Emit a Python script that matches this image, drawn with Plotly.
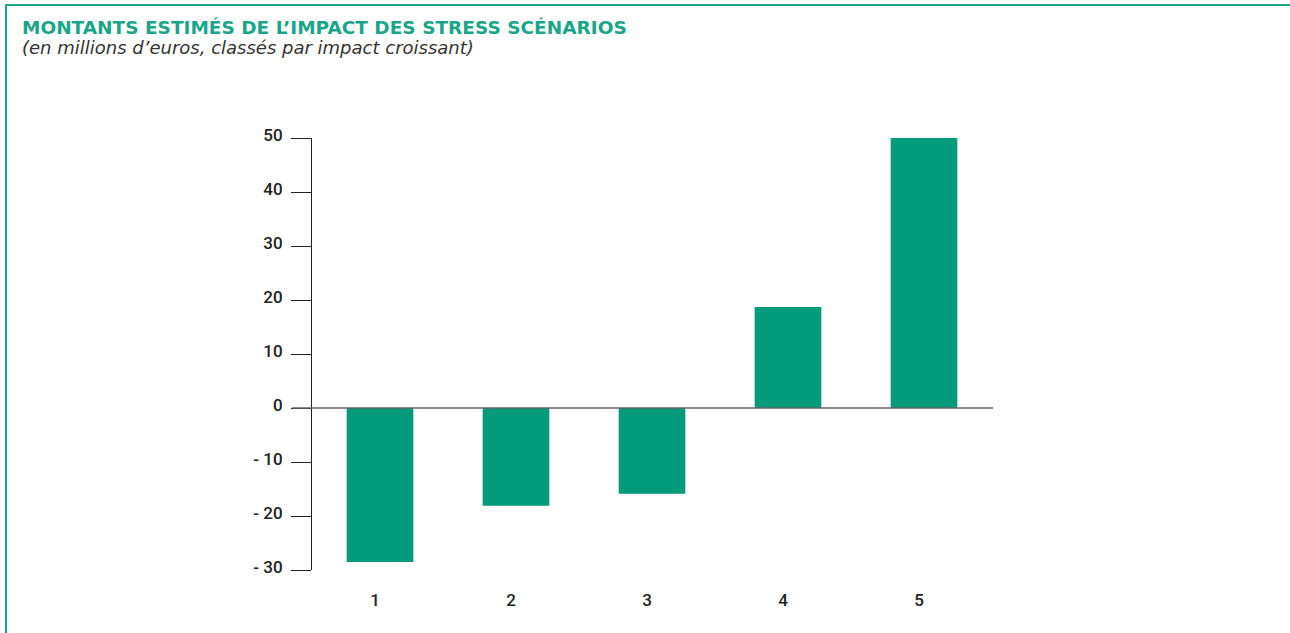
import plotly.graph_objects as go

categories = ["1", "2", "3", "4", "5"]
values = [-28.5, -18.1, -15.9, 18.7, 50.2]
tick_vals = [-30, -20, -10, 0, 10, 20, 30, 40, 50]
tick_text = ["- 30", "- 20", "- 10", "0", "10", "20", "30", "40", "50"]

bar_color = "#009B7A"
teal = "#1AA588"
tick_font = dict(family="Roboto, Liberation Sans, Arial, sans-serif", size=17, color="#222222", weight=500)

W, H = 1290, 633
L, R, T, B = 312, 298, 138, 63
PW, PH = W - L - R, H - T - B


def px(x):
    return (x - L) / PW


def py(y):
    return (H - B - y) / PH


fig = go.Figure()
fig.add_trace(go.Bar(
    x=categories, y=values, width=0.49,
    marker=dict(color=bar_color, line=dict(width=0)),
    showlegend=False, hoverinfo="skip",
))

fig.update_layout(
    width=W, height=H,
    margin=dict(l=L, r=R, t=T, b=B),
    paper_bgcolor="white", plot_bgcolor="white",
    xaxis=dict(
        range=[-0.5, 4.5], showgrid=False, zeroline=False, showline=False,
        ticks="", tickfont=tick_font, ticklabelstandoff=18, ticklabelshift=-5,
    ),
    yaxis=dict(
        range=[-30, 50], tickvals=tick_vals, ticktext=tick_text,
        showgrid=False, zeroline=False,
        showline=True, linecolor="#222222", linewidth=1,
        ticks="outside", ticklen=20, tickcolor="#222222", tickwidth=1,
        tickfont=tick_font, ticklabelstandoff=5, ticklabelshift=-3,
    ),
    shapes=[
        dict(type="line", xref="paper", yref="y", x0=px(292), x1=px(993), y0=0, y1=0,
             line=dict(color="#666666", width=1.5)),
        dict(type="line", xref="paper", yref="paper",
             x0=px(6), x1=px(6), y0=py(H), y1=py(4),
             line=dict(color=teal, width=2)),
        dict(type="line", xref="paper", yref="paper",
             x0=px(5), x1=px(W), y0=py(5), y1=py(5),
             line=dict(color=teal, width=2)),
    ],
    annotations=[
        dict(text="<b>MONTANTS ESTIMÉS DE L’IMPACT DES STRESS SCÉNARIOS</b>",
             xref="paper", yref="paper", x=px(20), y=py(27),
             xanchor="left", yanchor="middle", showarrow=False,
             font=dict(family="DejaVu Sans, sans-serif", size=18.5, color=teal)),
        dict(text="<i>(en millions d’euros, classés par impact croissant)</i>",
             xref="paper", yref="paper", x=px(20), y=py(47),
             xanchor="left", yanchor="middle", showarrow=False,
             font=dict(family="DejaVu Sans, sans-serif", size=18, color="#333333")),
    ],
)

fig.write_html("out.html", config={"displayModeBar": False},
               post_script="document.body.style.margin='0';document.body.style.overflow='hidden';")
